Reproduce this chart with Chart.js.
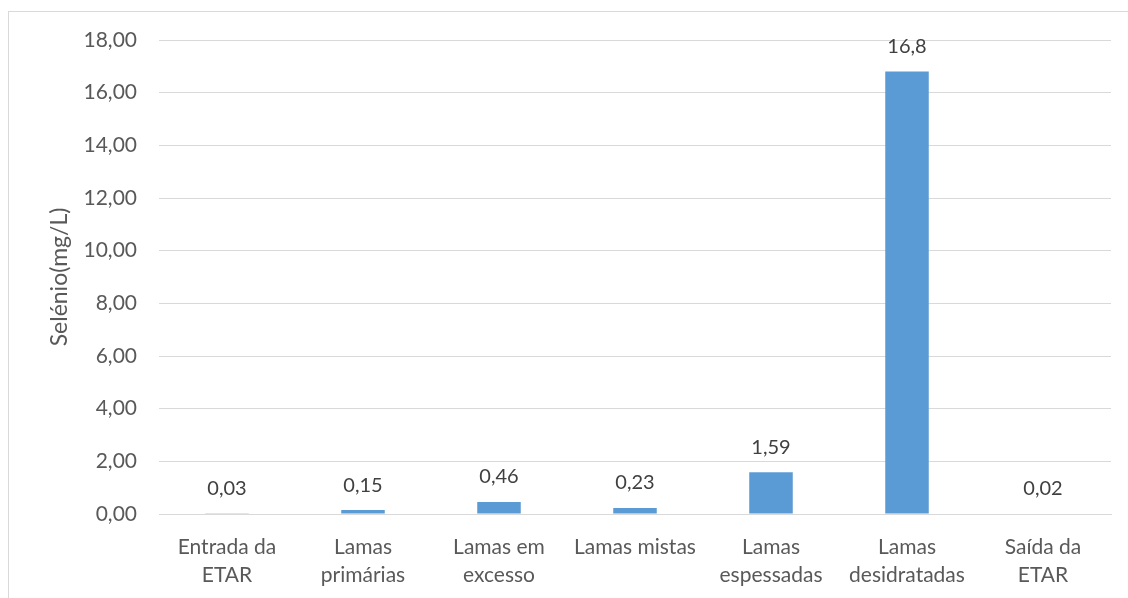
<!DOCTYPE html>
<html><head><meta charset="utf-8">
<script src="https://cdn.jsdelivr.net/npm/chart.js@4.4.0/dist/chart.umd.min.js"></script>
<style>
html,body{margin:0;padding:0;background:#fff;}
#wrap{position:relative;width:1128px;height:598px;overflow:hidden;}
#frame{position:absolute;left:8px;top:11px;width:1200px;height:700px;border:1px solid #d9d9d9;box-sizing:border-box;}
canvas{position:absolute;left:0;top:0;}
</style></head><body>
<div id="wrap"><div id="frame"></div><canvas id="c" width="1128" height="598"></canvas></div>
<script>
const categories = [["Entrada da","ETAR"],["Lamas","primárias"],["Lamas em","excesso"],["Lamas mistas"],["Lamas","espessadas"],["Lamas","desidratadas"],["Saída da","ETAR"]];
const values = [0.03, 0.15, 0.46, 0.23, 1.59, 16.8, 0.02];
const valueLabels = ["0,03","0,15","0,46","0,23","1,59","16,8","0,02"];
const yTitle = "Selénio(mg/L)";

const FONT = "Lato";
const labelPlugin = {
  id:'labels',
  afterDatasetsDraw(chart){
    const ctx = chart.ctx;
    const meta = chart.getDatasetMeta(0);
    ctx.save();
    ctx.font = "20px " + FONT;
    ctx.fillStyle = "#404040";
    ctx.textAlign = "center";
    ctx.textBaseline = "middle";
    meta.data.forEach((bar,i)=>{
      ctx.fillText(valueLabels[i], bar.x, bar.y - 25);
    });
    ctx.restore();
  }
};
new Chart(document.getElementById('c'), {
  type:'bar',
  data:{labels:categories, datasets:[{data:values, backgroundColor:'#5B9BD5', categoryPercentage:1, barPercentage:0.32}]},
  options:{
    responsive:false, animation:false,
    layout:{padding:{left:0,top:40,right:17,bottom:0}},
    plugins:{legend:{display:false}, tooltip:{enabled:false}},
    scales:{
      x:{
        grid:{display:false, drawTicks:false},
        border:{display:true,color:'#d9d9d9',width:1},
        ticks:{color:'#595959', font:{family:FONT,size:21, lineHeight:1.35}, padding:19, maxRotation:0, autoSkip:false},
        afterFit(s){ s.height = 84; }
      },
      y:{
        min:0,max:18,
        grid:{color:'#d9d9d9', drawTicks:false},
        border:{display:false},
        ticks:{stepSize:2, color:'#595959', font:{family:FONT,size:21}, padding:22,
          callback:(v)=>v.toFixed(2).replace('.',',')},
        title:{display:true,text:yTitle,color:'#595959',font:{family:FONT,size:23},padding:{top:46,bottom:0}},
        afterFit(s){ s.width = 159; }
      }
    }
  },
  plugins:[labelPlugin]
});
</script>
</body></html>
